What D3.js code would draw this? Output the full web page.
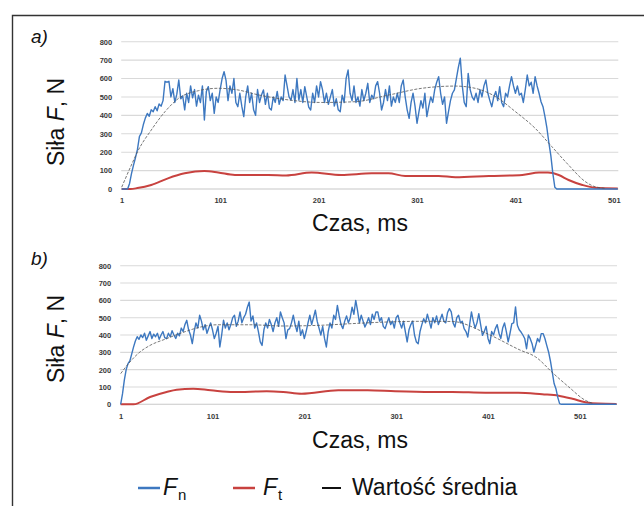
<!DOCTYPE html>
<html><head><meta charset="utf-8">
<script src="https://cdn.jsdelivr.net/npm/d3@7"></script>
<style>body{margin:0;background:#fff}svg{display:block}</style>
</head><body><svg id="c" width="644" height="506"></svg>
<script>
// ---------- data ----------
const xTickLabels = [1, 101, 201, 301, 401, 501];
const yTickValues = [0, 100, 200, 300, 400, 500, 600, 700, 800];
const sampleStep = 2; // Fn sampled every 2 ms starting at t = 1

// a) Fn, t = 1, 3, 5 ... 505
const topFn = [
  0,0,0,0,30,85,130,170,215,285,
  305,350,385,410,395,430,420,447,425,462,
  450,480,585,580,585,500,545,470,515,592,
  490,505,430,520,470,560,495,540,450,510,
  470,560,375,530,556,480,520,411,500,470,
  540,600,637,590,480,560,520,600,470,447,
  520,450,393,500,560,470,520,430,400,540,
  470,510,538,460,520,440,429,500,470,530,
  460,500,480,619,560,500,483,540,470,600,
  483,540,470,556,500,445,429,520,470,560,
  500,583,540,470,520,460,500,540,450,490,
  430,420,510,470,600,646,520,480,560,470,
  500,450,540,480,520,574,470,510,490,560,
  583,520,429,470,540,480,560,450,500,470,
  520,470,560,592,500,430,384,470,520,450,
  357,420,480,440,520,393,450,500,470,540,
  580,610,520,460,500,357,420,480,520,538,
  600,660,710,560,470,447,628,540,500,483,
  520,470,540,500,560,592,520,480,447,500,
  530,480,556,470,447,520,500,560,610,560,
  520,560,510,520,470,540,619,560,580,520,
  610,560,520,474,447,393,330,250,180,85,
  10,0,0,0,0,0,0,0,0,0,
  0,0,0,0,0,0,0,0,0,0,
  0,0,0,0,0,0,0,0,0,0,
  0,0,0
];
// a) Ft [t, value]
const topFt = [[1,0],[10,0],[17,5],[31,22],[48,58],[65,85],[85,98],[99,90],[116,76],[150,76],[168,73],[194,89],[224,76],[255,85],[272,85],[289,71],[323,71],[340,64],[374,71],[408,76],[425,89],[434,89],[445,76],[455,49],[469,22],[482,7],[505,3]];
// a) mean value (trend) [t, value]
const topMean = [[1,10],[10,120],[18,212],[31,320],[45,420],[59,493],[79,534],[99,547],[119,538],[140,511],[166,487],[204,470],[238,474],[272,510],[306,547],[340,559],[360,547],[381,501],[401,420],[421,330],[438,230],[455,130],[472,40],[482,12],[492,4]];

// b) Fn, t = 1, 3, 5 ... 541
const botFn = [
  0,60,140,200,235,250,290,330,365,390,
  375,400,385,410,370,395,420,380,405,390,
  410,375,400,420,385,379,410,390,425,400,
  380,410,395,440,420,460,485,430,400,350,
  420,470,440,514,480,430,460,410,440,470,
  430,379,410,450,331,400,485,440,470,430,
  460,500,514,450,480,533,470,500,520,560,
  590,480,510,440,470,420,360,340,430,470,
  440,490,460,420,470,500,450,533,500,470,
  379,430,437,470,514,460,420,480,398,430,
  379,420,470,514,460,500,543,480,440,400,
  450,380,331,420,470,440,514,490,571,510,
  460,437,480,510,470,500,560,520,600,540,
  470,514,480,446,470,500,460,520,490,533,
  533,480,500,450,437,470,500,460,480,440,
  500,514,470,440,480,420,360,430,460,480,
  400,360,350,420,460,494,470,520,480,440,
  500,470,510,460,490,520,480,470,530,552,
  533,470,446,500,514,470,480,437,420,388,
  460,533,480,440,470,523,460,398,420,450,
  380,350,420,400,437,460,410,380,440,470,
  420,360,410,466,470,562,456,430,417,400,
  380,321,400,379,350,302,340,380,360,408,
  408,380,340,302,250,186,120,90,40,4,
  0,0,0,0,0,0,0,0,0,0,
  0,0,0,0,0,0,0,0,0,0,
  0,0,0,0,0,0,0,0,0,0,
  0
];
const botFt = [[1,0],[15,0],[33,42],[51,71],[62,84],[80,90],[99,81],[124,71],[160,75],[178,71],[198,61],[238,81],[270,81],[300,75],[340,71],[362,71],[398,67],[434,67],[460,58],[478,50],[493,32],[507,12],[521,4],[541,2]];
const botMean = [[1,177],[11,244],[22,302],[33,340],[51,379],[70,417],[88,446],[106,459],[142,459],[178,452],[218,456],[254,466],[291,475],[327,479],[362,478],[399,410],[436,313],[453,273],[472,179],[489,100],[507,23],[516,4]];

const labelsPL = {y: "Siła ", yItal: "F", yEnd: ", N", x: "Czas, ms", mean: "Wartość średnia"};

// ---------- drawing ----------
const svg = d3.select("#c");
const blue = "#3d78c0", red = "#c8423f";

// frame
svg.append("path").attr("d", "M12.5,520 L12.5,15.5 L660,15.5")
  .attr("fill", "none").attr("stroke", "#333").attr("stroke-width", 1.4);

function panel(cfg) {
  const x = d3.scaleLinear().domain([0.5, cfg.n + 0.5]).range([cfg.left, cfg.right]);
  const y = d3.scaleLinear().domain([0, 800]).range([cfg.bottom, cfg.top]);
  const g = svg.append("g");

  g.selectAll("line.grid").data(yTickValues).join("line")
    .attr("x1", cfg.left).attr("x2", cfg.right)
    .attr("y1", d => y(d)).attr("y2", d => y(d))
    .attr("stroke", d => d === 0 ? "#c8c8c8" : "#d9d9d9").attr("stroke-width", 1.1);

  const ya = d3.axisLeft(y).tickValues(yTickValues).tickSize(0).tickPadding(9);
  g.append("g").attr("transform", `translate(${cfg.left},0)`).call(ya)
    .call(s => s.select(".domain").remove())
    .selectAll("text").attr("font-family", "Liberation Sans, Arial").attr("font-weight", "bold")
    .attr("font-size", "7.5px").attr("fill", "#3a3a3a");

  const xa = d3.axisBottom(x).tickValues(xTickLabels).tickSize(0).tickPadding(cfg.xPad);
  g.append("g").attr("transform", `translate(0,${cfg.bottom})`).call(xa)
    .call(s => s.select(".domain").remove())
    .selectAll("text").attr("font-family", "Liberation Sans, Arial").attr("font-weight", "bold")
    .attr("font-size", "7.5px").attr("fill", "#3a3a3a");

  const smooth = d3.line().x(d => x(d[0])).y(d => y(d[1])).curve(d3.curveMonotoneX);
  g.append("path").attr("d", smooth(cfg.ft)).attr("fill", "none")
    .attr("stroke", red).attr("stroke-width", 2);

  const noisy = d3.line().x((d, i) => x(1 + i * sampleStep)).y(d => y(d));
  g.append("path").attr("d", noisy(cfg.fn)).attr("fill", "none")
    .attr("stroke", blue).attr("stroke-width", 1.4).attr("stroke-linejoin", "round");

  g.append("path").attr("d", smooth(cfg.mean)).attr("fill", "none")
    .attr("stroke", "#555").attr("stroke-width", 0.8).attr("stroke-dasharray", "3,1.5");

  // titles
  g.append("text").attr("x", 360).attr("y", cfg.xTitleY).attr("text-anchor", "middle")
    .attr("font-family", "Liberation Sans, Arial").attr("font-size", "23px").attr("fill", "#111")
    .text(labelsPL.x);
  const yt = g.append("text").attr("transform", `translate(64,${cfg.yTitleC}) rotate(-90)`)
    .attr("text-anchor", "middle").attr("font-family", "Liberation Sans, Arial")
    .attr("font-size", "23px").attr("fill", "#111");
  yt.append("tspan").text(labelsPL.y);
  yt.append("tspan").attr("font-style", "italic").text(labelsPL.yItal);
  yt.append("tspan").text(labelsPL.yEnd);

  g.append("text").attr("x", 31).attr("y", cfg.tagY).attr("font-family", "Liberation Sans, Arial")
    .attr("font-style", "italic").attr("font-size", "19px").attr("fill", "#111").text(cfg.tag);
}

panel({n: 505, left: 121.2, right: 618.3, top: 41.7, bottom: 189, xPad: 8.5,
  fn: topFn, ft: topFt, mean: topMean, xTitleY: 231, yTitleC: 122, tag: "a)", tagY: 43});
panel({n: 541, left: 120.2, right: 617, top: 265.7, bottom: 404.3, xPad: 9,
  fn: botFn, ft: botFt, mean: botMean, xTitleY: 448, yTitleC: 339, tag: "b)", tagY: 265});

// legend
const lg = svg.append("g").attr("font-family", "Liberation Sans, Arial").attr("fill", "#111");
const legendItems = [
  {x1: 138, x2: 160, color: blue, w: 2.5, tx: 163, main: "F", sub: "n"},
  {x1: 233, x2: 255, color: red, w: 2.5, tx: 263, main: "F", sub: "t"},
  {x1: 322, x2: 341, color: "#111", w: 2, tx: 352, main: null, text: labelsPL.mean}
];
legendItems.forEach(d => {
  lg.append("line").attr("x1", d.x1).attr("x2", d.x2).attr("y1", 488).attr("y2", 488)
    .attr("stroke", d.color).attr("stroke-width", d.w);
  const t = lg.append("text").attr("x", d.tx).attr("y", 495).attr("font-size", "23px");
  if (d.main) {
    t.append("tspan").attr("font-style", "italic").text(d.main);
    t.append("tspan").attr("font-size", "15px").attr("dy", 5).attr("dx", 1).text(d.sub);
  } else {
    t.text(d.text);
  }
});
</script></body></html>
